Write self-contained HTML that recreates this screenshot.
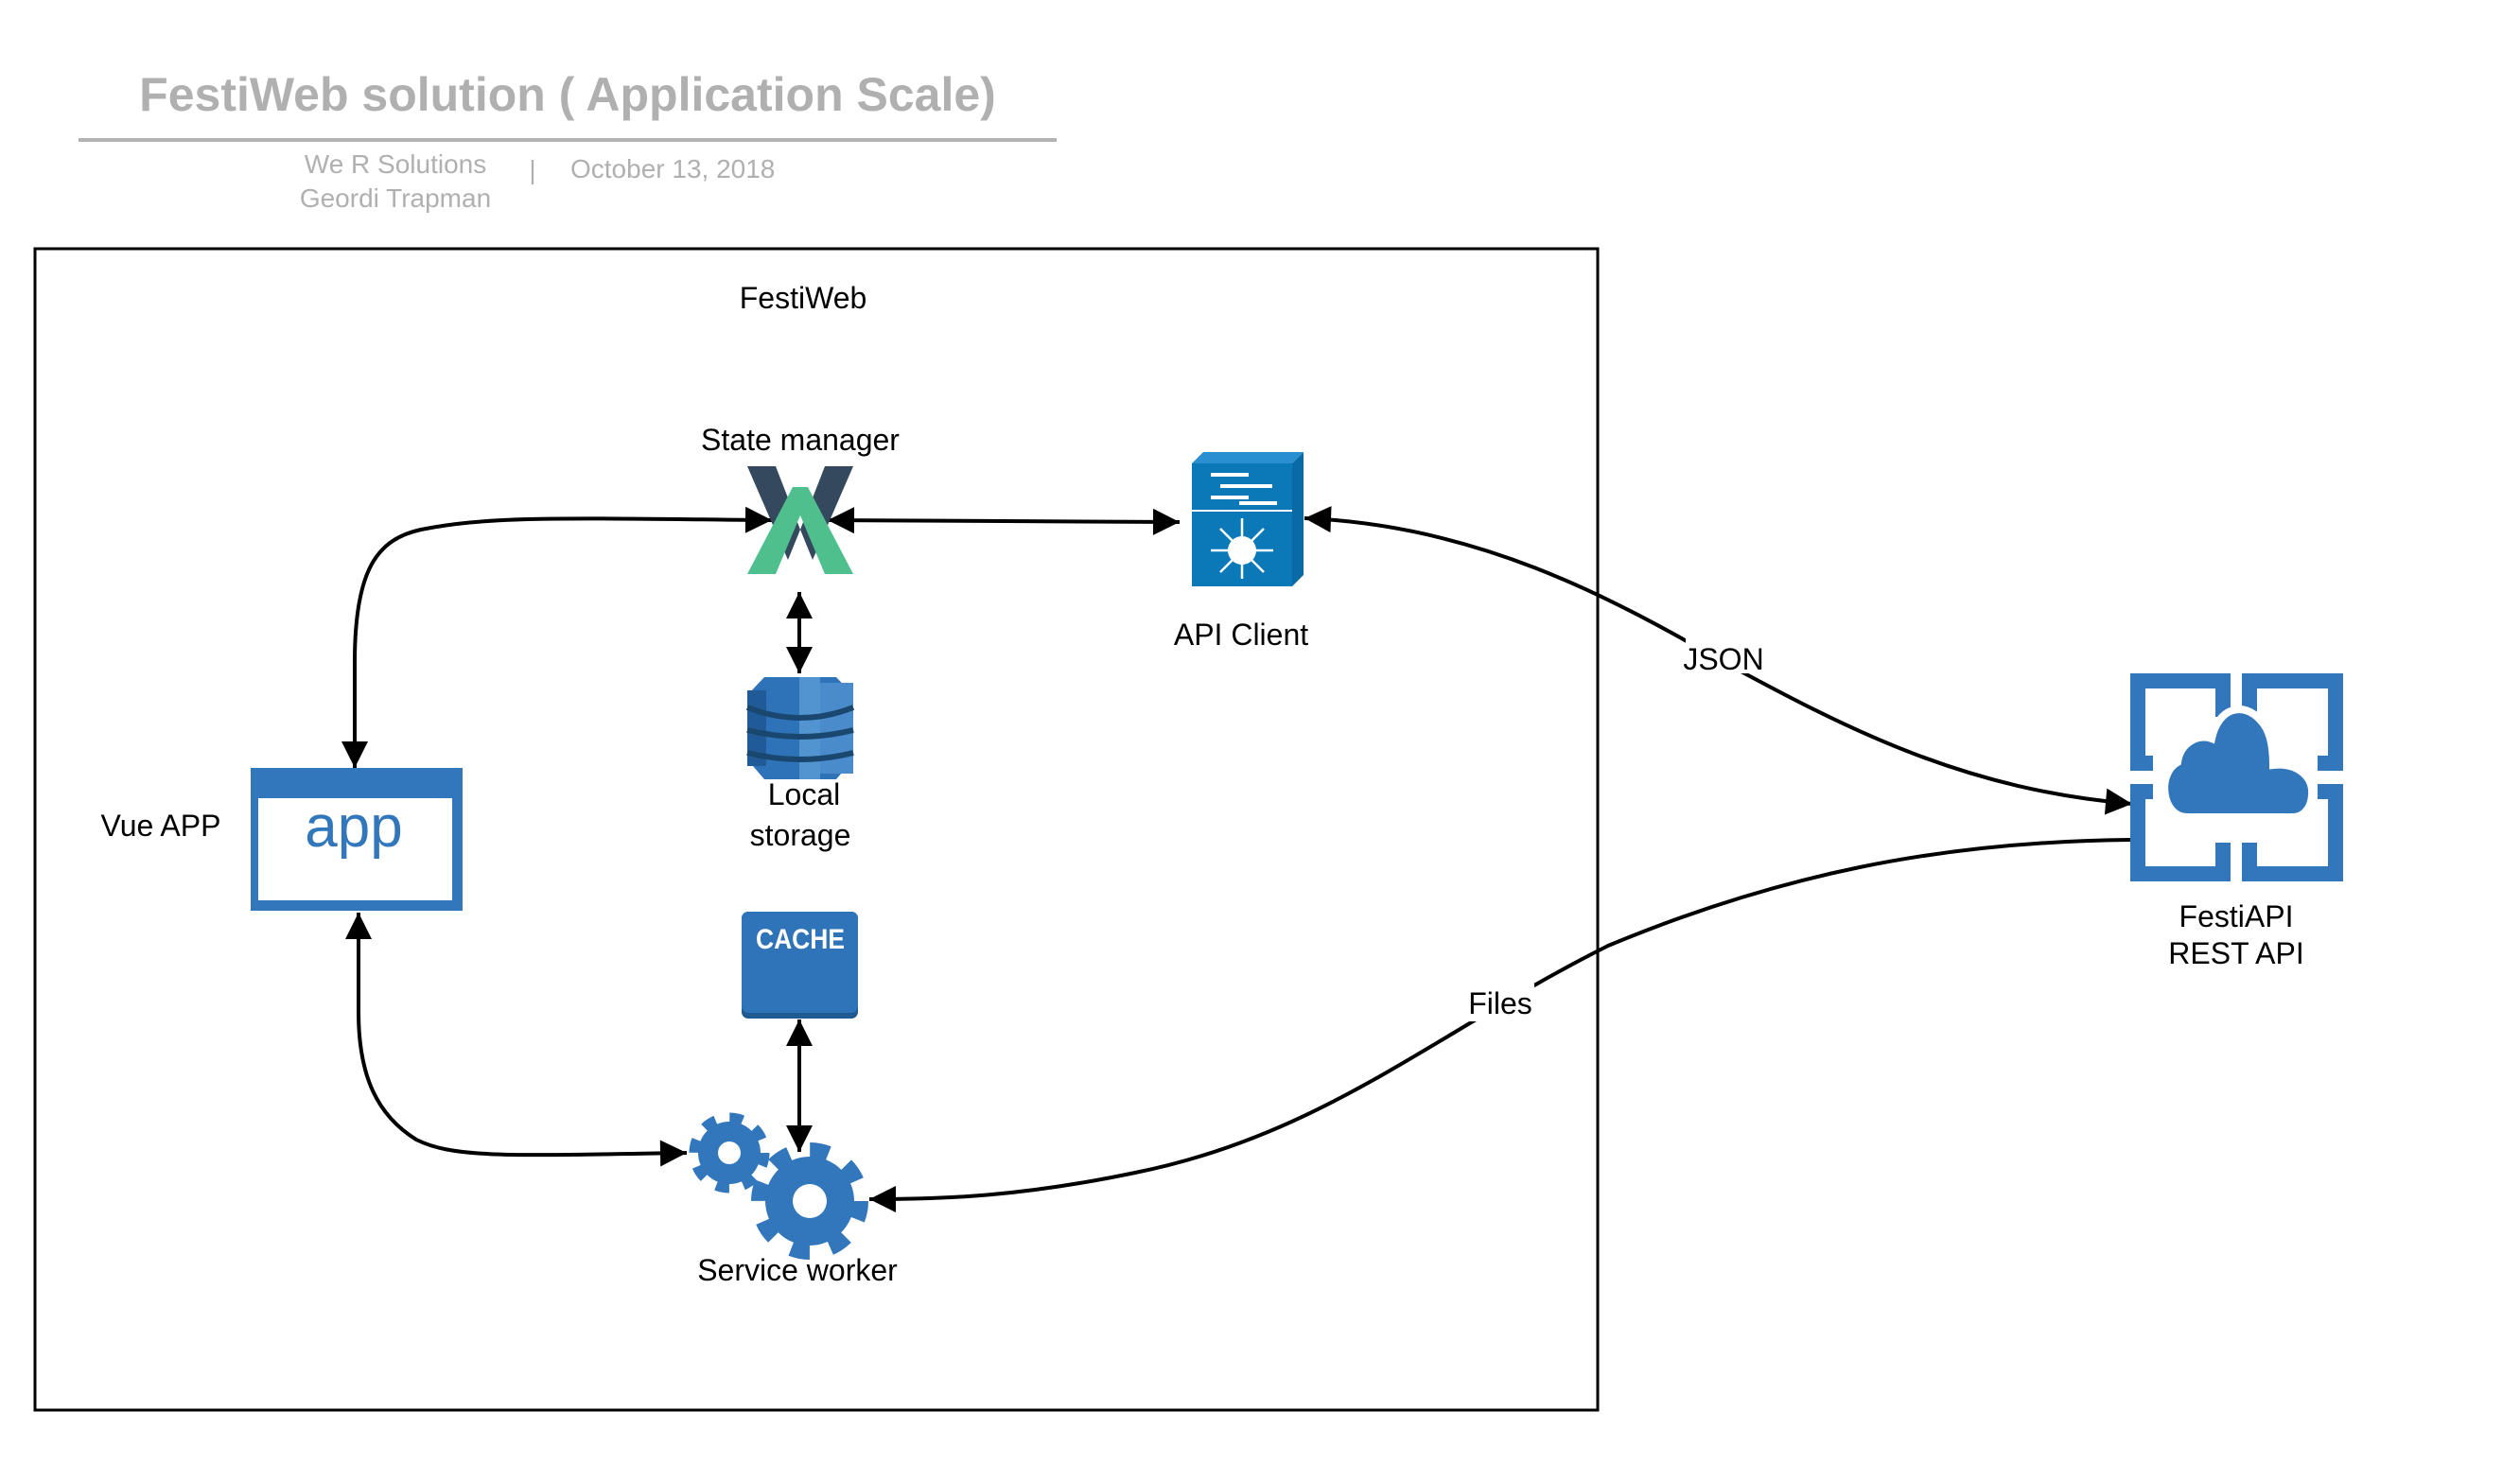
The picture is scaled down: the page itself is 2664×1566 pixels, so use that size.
<!DOCTYPE html>
<html><head><meta charset="utf-8"><style>
html,body{margin:0;padding:0;background:#fff;}
svg{display:block;}
text{font-family:"Liberation Sans",Arial,sans-serif;}
</style></head><body>
<svg width="2664" height="1566" viewBox="0 0 2664 1566" xmlns="http://www.w3.org/2000/svg">
<defs>
<marker id="ah" viewBox="0 0 10 10" refX="10" refY="5" markerWidth="8.5" markerHeight="7" markerUnits="strokeWidth" orient="auto-start-reverse">
<path d="M0,0 L10,5 L0,10 z" fill="#000"/>
</marker>
</defs>

<!-- header -->
<text x="600" y="117" font-size="50" font-weight="bold" fill="#b0b0b0" text-anchor="middle">FestiWeb solution ( Application Scale)</text>
<line x1="83" y1="148" x2="1117" y2="148" stroke="#b3b3b3" stroke-width="4"/>
<text x="418" y="183" font-size="28" fill="#b0b0b0" text-anchor="middle">We R Solutions</text>
<text x="418" y="219" font-size="28" fill="#b0b0b0" text-anchor="middle">Geordi Trapman</text>
<text x="563" y="189" font-size="28" fill="#b0b0b0" text-anchor="middle">|</text>
<text x="603" y="188" font-size="28" fill="#b0b0b0">October 13, 2018</text>

<!-- container -->
<rect x="37" y="263" width="1652" height="1228" fill="none" stroke="#000" stroke-width="3"/>
<text x="849" y="326" font-size="32" text-anchor="middle">FestiWeb</text>

<!-- connectors -->
<g fill="none" stroke="#000" stroke-width="4">
<path d="M375,812 L375,700 C375,600 400,570 445,560 C520,545 600,548 816,550" marker-start="url(#ah)" marker-end="url(#ah)"/>
<path d="M875,550 L1062,551 L1247,552" marker-start="url(#ah)" marker-end="url(#ah)"/>
<path d="M379,965 L379,1070 C379,1140 400,1180 440,1205 C480,1225 540,1222 726,1219" marker-start="url(#ah)" marker-end="url(#ah)"/>
<path d="M845,626 V712" marker-start="url(#ah)" marker-end="url(#ah)"/>
<path d="M845,1078 V1218" marker-start="url(#ah)" marker-end="url(#ah)"/>
<path d="M1379,548 C1560,555 1700,630 1822,700 C1960,775 2080,835 2254,850" marker-start="url(#ah)" marker-end="url(#ah)"/>
<path d="M2252,888 C2050,890 1880,925 1700,1000 C1520,1090 1400,1200 1200,1240 C1080,1265 1000,1268 919,1268" marker-end="url(#ah)"/>
</g>
<rect x="1782" y="672" width="82" height="40" fill="#fff"/>
<text x="1822" y="708" font-size="32" text-anchor="middle">JSON</text>
<rect x="1550" y="1040" width="72" height="40" fill="#fff"/>
<text x="1586" y="1072" font-size="32" text-anchor="middle">Files</text>

<!-- State manager (vuex) -->
<text x="846" y="476" font-size="32" text-anchor="middle">State manager</text>
<polygon points="790,493 820,493 846,560 833,592" fill="#35495e"/>
<polygon points="902,493 872,493 846,560 859,592" fill="#35495e"/>
<polygon points="790,607 838,515 854,515 902,607 872,607 846,545 820,607" fill="#4fc08d"/>

<!-- API client -->
<polygon points="1260,490 1272,478 1378,478 1366,490" fill="#2a8fd0"/>
<polygon points="1366,490 1378,478 1378,608 1366,620" fill="#0a6aa6"/>
<rect x="1260" y="490" width="106" height="130" fill="#0b79b8"/>
<line x1="1260" y1="540" x2="1366" y2="540" stroke="#fff" stroke-width="2"/>
<g stroke="#fff" stroke-width="4">
<line x1="1280" y1="502" x2="1320" y2="502"/><line x1="1290" y1="514" x2="1345" y2="514"/>
<line x1="1280" y1="526" x2="1320" y2="526"/><line x1="1310" y1="532" x2="1350" y2="532"/>
</g>
<g stroke="#fff" stroke-width="2.5">
<line x1="1313" y1="548" x2="1313" y2="612"/><line x1="1280" y1="582" x2="1346" y2="582"/>
<line x1="1290" y1="559" x2="1336" y2="605"/><line x1="1336" y1="559" x2="1290" y2="605"/>
</g>
<circle cx="1313" cy="582" r="15" fill="#fff"/>
<text x="1312" y="682" font-size="32" text-anchor="middle">API Client</text>

<!-- Local storage -->
<polygon points="790,735 808,716 884,716 902,735 902,803 884,824 808,824 790,803" fill="#2e73b8"/>
<rect x="845" y="716" width="22" height="108" fill="#5294cf"/>
<rect x="867" y="722" width="35" height="96" fill="#4a8ccb"/>
<rect x="790" y="730" width="20" height="80" fill="#205b98"/>
<g stroke="#1a476f" stroke-width="6" fill="none">
<path d="M790,748 Q846,770 902,748"/><path d="M790,772 Q846,786 902,772"/><path d="M790,796 Q846,810 902,796"/>
</g>
<text x="850" y="851" font-size="32" text-anchor="middle">Local</text>
<text x="846" y="894" font-size="32" text-anchor="middle">storage</text>

<!-- Vue app -->
<text x="170" y="884" font-size="32" text-anchor="middle">Vue APP</text>
<rect x="265" y="812" width="224" height="151" fill="#3277bc"/>
<rect x="273" y="844" width="205" height="108" fill="#fff"/>
<text x="374" y="895" font-size="62" fill="#3277bc" text-anchor="middle">app</text>

<!-- Cache -->
<rect x="784" y="964" width="123" height="113" rx="7" fill="#1f5a92"/>
<rect x="784" y="964" width="123" height="107" rx="7" fill="#2f73b8"/>
<text x="846" y="1003" font-size="30" font-weight="bold" fill="#fff" text-anchor="middle" textLength="94" lengthAdjust="spacingAndGlyphs">CACHE</text>

<!-- Service worker gears -->
<g fill="#3277bc">
<circle cx="771" cy="1219" r="33"/>
<circle cx="771" cy="1219" r="37" fill="none" stroke="#3277bc" stroke-width="11" stroke-dasharray="14 15.06"/>
<circle cx="856" cy="1270" r="47"/>
<circle cx="856" cy="1270" r="54" fill="none" stroke="#3277bc" stroke-width="16" stroke-dasharray="20 22.4"/>
</g>
<circle cx="771" cy="1219" r="12" fill="#fff"/>
<circle cx="856" cy="1270" r="18" fill="#fff"/>
<text x="843" y="1354" font-size="32" text-anchor="middle">Service worker</text>

<!-- FestiAPI -->
<g transform="translate(0,6)">
<g fill="none" stroke="#3277bc" stroke-width="16">
<path d="M2276,801 H2260 V714 H2350 V752"/>
<path d="M2378,752 V714 H2469 V801 H2450"/>
<path d="M2276,831 H2260 V918 H2350 V885"/>
<path d="M2378,885 V918 H2469 V831 H2450"/>
</g>
<path d="M2312,858 C2285,858 2280,812 2302,800 C2305,778 2325,770 2338,775 C2345,742 2372,735 2390,756 C2400,766 2403,785 2403,803 C2428,800 2446,815 2444,835 C2443,852 2432,858 2424,858 Z" fill="#3277bc" stroke="#fff" stroke-width="8"/>
</g>
<text x="2364" y="980" font-size="32" text-anchor="middle">FestiAPI</text>
<text x="2364" y="1019" font-size="32" text-anchor="middle">REST API</text>
</svg>
</body></html>
